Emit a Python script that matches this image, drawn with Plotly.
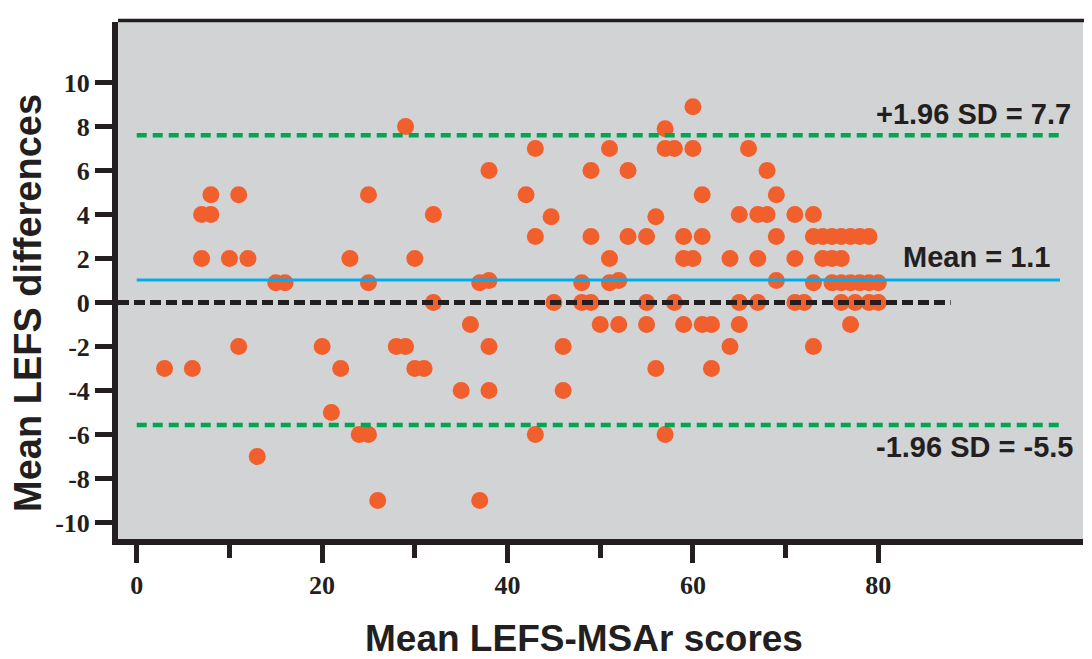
import plotly.graph_objects as go

# ---- data ----
mean_scores = [3, 6, 7, 7, 8, 8, 10, 11, 11, 12, 13, 15, 16, 20, 21, 22, 23, 24, 25, 25, 25,
               26, 28, 29, 29, 30, 30, 31, 32, 32, 35, 36, 37, 37, 38, 38, 38, 38, 42, 43, 43, 43,
               44.7, 45, 46, 46, 48, 48, 49, 49, 49, 50, 51, 51, 51, 52, 52, 53, 53, 55, 55, 55,
               56, 56, 57, 57, 57, 58, 58, 59, 59, 59, 60, 60, 60, 61, 61, 61, 62, 62, 64, 64,
               65, 65, 65, 66, 67, 67, 67, 68, 68, 69, 69, 69, 71, 71, 71, 72, 73, 73, 73,
               73, 74, 75, 76, 77, 78, 79, 74, 75, 76, 75, 76, 77, 78, 79, 80, 76, 77.5, 79, 80, 77]
differences = [-3, -3, 4, 2, 4.9, 4, 2, 4.9, -2, 2, -7, 0.9, 0.9, -2, -5, -3, 2, -6, -6, 4.9, 0.9,
               -9, -2, 8, -2, 2, -3, -3, 4, 0, -4, -1, -9, 0.9, 6, 1.0, -2, -4, 4.9, 7, 3, -6,
               3.9, 0, -2, -4, 0.9, 0, 6, 3, 0, -1, 7, 2, 0.9, -1, 1.0, 6, 3, 3, 0, -1,
               3.9, -3, 7.9, 7, -6, 7, 0, -1, 3, 2, 8.9, 7, 2, -1, 4.9, 3, -3, -1, 2, -2,
               4, 0, -1, 7, 4, 2, 0, 6, 4, 4.9, 3, 1.0, 4, 2, 0, 0, 4, 0.9, -2,
               3, 3, 3, 3, 3, 3, 3, 2, 2, 2, 0.9, 0.9, 0.9, 0.9, 0.9, 0.9, 0, 0, 0, 0, -1]

upper_loa = 7.6
mean_diff = 1.02
lower_loa = -5.57
zero_line = 0
line_x = [0, 99.6]
zero_x = [-2.02, 87.8]

line_labels = ["+1.96 SD = 7.7", "Mean = 1.1", "-1.96 SD = -5.5"]
y_tickvals = [-10, -8, -6, -4, -2, 0, 2, 4, 6, 8, 10]
y_ticktext = ["-10", "-8", "-6", "-4", "-2", "0", "2", "4", "6", "8", "10"]
x_tickvals = [0, 20, 40, 60, 80]
x_minor = [10, 30, 50, 70]
x_title = "Mean LEFS-MSAr scores"
y_title = "Mean LEFS differences"

DARK = "#231f20"
GREEN = "#00a651"
BLUE = "#00aeef"
ORANGE = "#f15f2d"

fig = go.Figure()
fig.add_trace(go.Scatter(x=mean_scores, y=differences, mode="markers",
                         marker=dict(size=17, color=ORANGE, line=dict(width=0)),
                         hoverinfo="x+y", showlegend=False))
fig.add_trace(go.Scatter(x=line_x, y=[upper_loa, upper_loa], mode="lines",
                         line=dict(color=GREEN, width=4.5, dash="10px,6px"), showlegend=False))
fig.add_trace(go.Scatter(x=line_x, y=[lower_loa, lower_loa], mode="lines",
                         line=dict(color=GREEN, width=4.5, dash="10px,6px"), showlegend=False))
fig.add_trace(go.Scatter(x=line_x, y=[mean_diff, mean_diff], mode="lines",
                         line=dict(color=BLUE, width=3), showlegend=False))
fig.add_trace(go.Scatter(x=zero_x, y=[zero_line, zero_line], mode="lines",
                         line=dict(color=DARK, width=5, dash="11px,5px"), showlegend=False))

ann_font = dict(family="Liberation Sans, Arial, sans-serif", size=29, color=DARK, weight="bold")
fig.add_annotation(x=101.0, y=upper_loa, xref="x", yref="y", text=line_labels[0],
                   xanchor="right", yanchor="middle", yshift=21, showarrow=False, font=ann_font)
fig.add_annotation(x=98.8, y=mean_diff, xref="x", yref="y", text=line_labels[1],
                   xanchor="right", yanchor="middle", yshift=23, showarrow=False, font=ann_font)
fig.add_annotation(x=101.2, y=lower_loa, xref="x", yref="y", text=line_labels[2],
                   xanchor="right", yanchor="middle", yshift=-22, showarrow=False, font=ann_font)

title_font = dict(family="Liberation Sans, Arial, sans-serif", size=37, color=DARK, weight="bold")
fig.add_annotation(x=0.483, y=-0.193, xref="paper", yref="paper", text=x_title,
                   xanchor="center", yanchor="middle", showarrow=False, font=title_font)
fig.add_annotation(x=-0.094, y=0.457, xref="paper", yref="paper", text=y_title, textangle=-90,
                   xanchor="center", yanchor="middle", showarrow=False,
                   font=dict(title_font, size=38))

tick_font = dict(family="Liberation Serif, Times New Roman, serif", size=26, color=DARK, weight="bold")

fig.update_xaxes(range=[-2.02, 102.08], showgrid=False, zeroline=False,
                 showline=True, linewidth=6, linecolor=DARK,
                 tickmode="array", tickvals=x_tickvals, ticks="outside", ticklen=18, tickwidth=5,
                 tickcolor=DARK, tickfont=tick_font,
                 minor=dict(tickmode="array", tickvals=x_minor, ticks="outside", ticklen=13,
                            tickwidth=5, tickcolor=DARK, showgrid=False))
fig.update_yaxes(range=[-10.75, 12.75], showgrid=False, zeroline=False,
                 showline=True, linewidth=6, linecolor=DARK,
                 tickmode="array", tickvals=y_tickvals, ticktext=y_ticktext,
                 ticks="outside", ticklen=17, tickwidth=5, tickcolor=DARK, tickfont=tick_font)

fig.add_shape(type="line", xref="paper", yref="paper", x0=0, x1=1.003, y0=1.003, y1=1.003,
              line=dict(color=DARK, width=3.5))
fig.add_shape(type="line", xref="paper", yref="paper", x0=1.003, x1=1.003, y0=-0.005, y1=1.003,
              line=dict(color=DARK, width=3.5))

fig.update_layout(width=1084, height=651, margin=dict(l=110, r=9, t=14, b=120),
                  plot_bgcolor="#d1d3d4", paper_bgcolor="white", showlegend=False)

fig.write_html("out.html")
